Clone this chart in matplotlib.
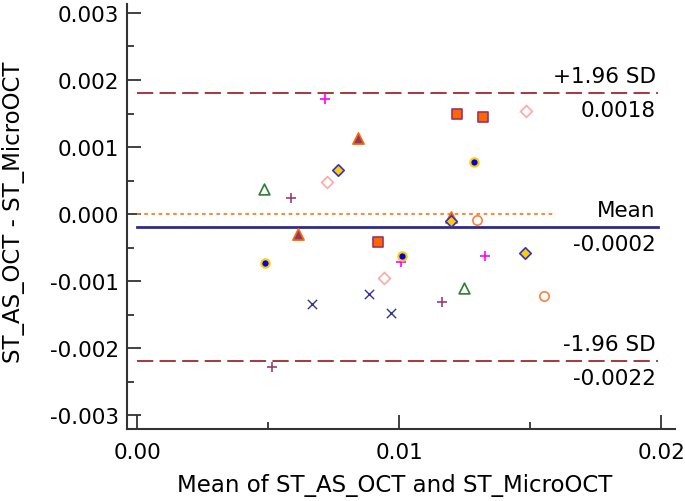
import numpy as np
import matplotlib.pyplot as plt
from matplotlib.ticker import MultipleLocator, FormatStrFormatter

plt.rcParams['font.family'] = ['DejaVu Sans']
plt.rcParams['axes.unicode_minus'] = False

# Bland-Altman statistics
mean_diff = -0.0002
upper_loa = 0.0018
lower_loa = -0.0022

# points per subgroup: (mean, difference)
magenta_plus_x = [0.00718, 0.01008, 0.01328]
magenta_plus_y = [0.00172, -0.00072, -0.00063]
purple_tri_x = [0.00844, 0.00615, 0.01198]
purple_tri_y = [0.00113, -0.00030, -0.00005]
yellow_dia_x = [0.00767, 0.01198, 0.01481]
yellow_dia_y = [0.00066, -0.00010, -0.00058]
pink_dia_x = [0.00725, 0.01485, 0.00943]
pink_dia_y = [0.00048, 0.00154, -0.00096]
green_tri_x = [0.00485, 0.01248]
green_tri_y = [0.00037, -0.00110]
purple_plus_x = [0.00588, 0.01164, 0.00515]
purple_plus_y = [0.00024, -0.00131, -0.00228]
orange_sq_x = [0.01221, 0.01321, 0.00920]
orange_sq_y = [0.00149, 0.00145, -0.00042]
blue_dot_x = [0.01286, 0.00489, 0.01011]
blue_dot_y = [0.00078, -0.00073, -0.00063]
orange_circ_x = [0.01298, 0.01553]
orange_circ_y = [-0.00009, -0.00122]
blue_x_x = [0.00885, 0.00668, 0.00969]
blue_x_y = [-0.00119, -0.00134, -0.00148]

fig = plt.figure(figsize=(6.85, 5.02), dpi=100)
ax = fig.add_axes([0.1854, 0.1434, 0.8, 0.8466])

# reference lines
ax.plot([0, 0.0160], [0, 0], color='#FF7F1E', lw=1.3, ls=(0, (2, 2)))
ax.plot([0, 0.0199], [mean_diff, mean_diff], color='#2B2B90', lw=2)
sd_dash = (0, (9, 3.5))
ax.plot([0, 0.0199], [upper_loa, upper_loa], color='#A0282D', lw=1.3, ls=sd_dash)
ax.plot([0, 0.0199], [lower_loa, lower_loa], color='#A0282D', lw=1.3, ls=sd_dash)

# scatter subgroups
ax.scatter(magenta_plus_x, magenta_plus_y, marker='+', s=60, color='#FF00FF', lw=1.2, zorder=3)
ax.scatter(purple_tri_x, purple_tri_y, marker='^', s=65, facecolor='#8B3A6B', edgecolor='#FF6A00', lw=1.2, zorder=3)
ax.scatter(yellow_dia_x, yellow_dia_y, marker='D', s=34, facecolor='#FFCC00', edgecolor='#3333CC', lw=1.2, zorder=4)
ax.scatter(pink_dia_x, pink_dia_y, marker='D', s=36, facecolor='white', edgecolor='#FFA8A8', lw=1.2, zorder=3)
ax.scatter(green_tri_x, green_tri_y, marker='^', s=60, facecolor='white', edgecolor='#2E7D32', lw=1.2, zorder=3)
ax.scatter(purple_plus_x, purple_plus_y, marker='+', s=60, color='#994070', lw=1.2, zorder=3)
ax.scatter(orange_sq_x, orange_sq_y, marker='s', s=50, facecolor='#FF6600', edgecolor='#993366', lw=1.2, zorder=3)
ax.scatter(blue_dot_x, blue_dot_y, marker='o', s=36, facecolor='#0000EE', edgecolor='#FFCC00', lw=1.5, zorder=3)
ax.scatter(orange_circ_x, orange_circ_y, marker='o', s=45, facecolor='white', edgecolor='#FF7F3F', lw=1.2, zorder=3)
ax.scatter(blue_x_x, blue_x_y, marker='x', s=45, color='#33339A', lw=1.0, zorder=3)

# line labels
lab_x = 0.0198
for top, bottom, yv in [('+1.96 SD', '%.4f' % upper_loa, upper_loa),
                        ('Mean', '%.4f' % mean_diff, mean_diff),
                        ('-1.96 SD', '%.4f' % lower_loa, lower_loa)]:
    ax.annotate(top, (lab_x, yv), xytext=(0, 5), textcoords='offset points',
                ha='right', va='bottom', fontsize=15.5)
    ax.annotate(bottom, (lab_x, yv), xytext=(0, -5), textcoords='offset points',
                ha='right', va='top', fontsize=15.5)

ax.set_xlim(-0.000382, 0.02053)
ax.set_ylim(-0.003209, 0.003134)
ax.xaxis.set_major_locator(MultipleLocator(0.01))
ax.xaxis.set_minor_locator(MultipleLocator(0.005))
ax.yaxis.set_major_locator(MultipleLocator(0.001))
ax.yaxis.set_minor_locator(MultipleLocator(0.0005))
ax.xaxis.set_major_formatter(FormatStrFormatter('%.2f'))
ax.yaxis.set_major_formatter(FormatStrFormatter('%.3f'))
ax.tick_params(which='both', direction='in', width=1.3, color='#333333', labelsize=15.5)
ax.tick_params(axis='x', pad=9)
ax.tick_params(axis='y', pad=6)
ax.tick_params(which='major', length=10)
ax.tick_params(which='minor', length=5)

for side in ['top', 'right']:
    ax.spines[side].set_visible(False)
for side in ['left', 'bottom']:
    ax.spines[side].set_linewidth(1.5)
    ax.spines[side].set_color('#333333')

ax.set_xlabel('Mean of ST_AS_OCT and ST_MicroOCT', fontsize=16.5, va='top')
ax.set_ylabel('ST_AS_OCT - ST_MicroOCT', fontsize=16.5)
ax.xaxis.set_label_coords(0.489, -0.103)
ax.yaxis.set_label_coords(-0.186, 0.512)

fig.savefig('out.png', dpi=100)
